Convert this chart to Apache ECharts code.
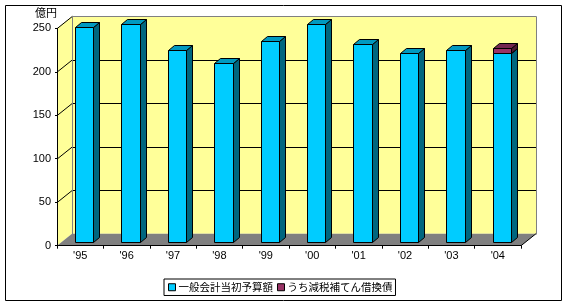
<!DOCTYPE html>
<html><head><meta charset="utf-8">
<script src="https://cdn.jsdelivr.net/npm/echarts@6/dist/echarts.min.js"></script>
<style>html,body{margin:0;padding:0;background:#fff}#c{width:567px;height:306px}</style>
</head><body><div id="c"></div>
<script>
const categories = ["'95","'96","'97","'98","'99","'00","'01","'02","'03","'04"];
const generalBudget = [247, 250, 220, 206, 231, 250, 227, 217, 220, 217];
const taxCutBonds   = [0, 0, 0, 0, 0, 0, 0, 0, 0, 6];
const yMin = 0, yMax = 250, yStep = 50;
const unitLabel = '億円';
const seriesNames = ['一般会計当初予算額', 'うち減税補てん借換債'];

const WALL_DX = 15, WALL_DY = -12;   // depth of the 3D box
const BAR_OX = 4, BAR_OY = -4;       // bar plane offset from front
const BAR_DX = 6, BAR_DY = -5;       // bar depth
const P = v => Math.round(v) + 0.5;

const chart = echarts.init(document.getElementById('c'), null, {renderer: 'canvas'});

function wallsRender(params, api) {
  const cs = params.coordSys;
  const x0 = cs.x, x1 = cs.x + cs.width;
  const yb = api.coord([0, yMin])[1];
  const children = [];
  const yTop = api.coord([0, yMax])[1];
  children.push({type: 'polygon', shape: {points: [
    [x0 + WALL_DX, yTop + WALL_DY], [x1 + WALL_DX, yTop + WALL_DY],
    [x1 + WALL_DX, yb + WALL_DY], [x0 + WALL_DX, yb + WALL_DY]]},
    style: {fill: '#FFFF99', stroke: null}});
  children.push({type: 'polygon', shape: {points: [
    [x0, yTop], [x0 + WALL_DX, yTop + WALL_DY], [x0 + WALL_DX, yb + WALL_DY], [x0, yb]]},
    style: {fill: '#FFFF99', stroke: null}});
  children.push({type: 'polygon', shape: {points: [
    [x0, yb], [x0 + WALL_DX, yb + WALL_DY], [x1 + WALL_DX, yb + WALL_DY], [x1, yb]]},
    style: {fill: '#808080', stroke: null}});
  for (let v = yMin; v <= yMax; v += yStep) {
    const y = api.coord([0, v])[1];
    if (v > yMin && v < yMax) {
      children.push({type: 'line', shape: {x1: x0 + WALL_DX, y1: P(y + WALL_DY), x2: x1 + WALL_DX, y2: P(y + WALL_DY)},
        style: {stroke: '#000', lineWidth: 1}});
    }
    if (v > yMin) {
      children.push({type: 'line', shape: {x1: P(x0), y1: y, x2: P(x0 + WALL_DX), y2: y + WALL_DY},
        style: {stroke: '#000', lineWidth: 1}});
    }
  }
  children.push({type: 'polyline', shape: {points: [
    [P(x0 + WALL_DX), P(yb + WALL_DY)], [P(x0 + WALL_DX), P(yTop + WALL_DY)],
    [P(x1 + WALL_DX), P(yTop + WALL_DY)], [P(x1 + WALL_DX), P(yb + WALL_DY)]]},
    style: {stroke: '#808080', fill: null, lineWidth: 1}});
  children.push({type: 'line', shape: {x1: x1, y1: yb, x2: x1 + WALL_DX, y2: yb + WALL_DY},
    style: {stroke: '#000', lineWidth: 1}});
  return {type: 'group', children};
}

function makeBarRender(colors) {
  return function (params, api) {
    const idx = api.value(0), base = api.value(1), top = api.value(2);
    if (top - base <= 0) return null;
    const c0 = api.coord([idx, base]);
    const c1 = api.coord([idx, top]);
    const w = api.size([1, 0])[0] * 0.4;
    const xl = P(c0[0] + BAR_OX - w / 2), xr = P(c0[0] + BAR_OX + w / 2);
    const yBot = P(c0[1] + BAR_OY), yT = P(c1[1] + BAR_OY);
    const st = {stroke: '#000', lineWidth: 1, lineJoin: 'miter'};
    return {type: 'group', children: [
      {type: 'polygon', shape: {points: [[xr, yT], [xr + BAR_DX, yT + BAR_DY], [xr + BAR_DX, yBot + BAR_DY], [xr, yBot]]},
        style: Object.assign({fill: colors.side}, st)},
      {type: 'polygon', shape: {points: [[xl, yT], [xl + BAR_DX, yT + BAR_DY], [xr + BAR_DX, yT + BAR_DY], [xr, yT]]},
        style: Object.assign({fill: colors.top}, st)},
      {type: 'rect', shape: {x: xl, y: yT, width: xr - xl, height: yBot - yT},
        style: Object.assign({fill: colors.front}, st)}
    ]};
  };
}

const baseData = generalBudget.map((v, i) => [i, 0, v]);
const stackData = taxCutBonds.map((v, i) => [i, generalBudget[i], generalBudget[i] + v]);

chart.setOption({
  animation: false,
  textStyle: {fontFamily: 'Liberation Sans, Arial, sans-serif'},
  graphic: [
    {type: 'rect', shape: {x: 5.5, y: 5.5, width: 556, height: 295}, style: {fill: null, stroke: '#000', lineWidth: 1}, z: -10},
    {type: 'text', left: 35, top: 7, style: {text: unitLabel, font: '11px "Noto Sans CJK JP"', fill: '#000'}}
  ],
  grid: {left: 57, right: 46, top: 28.3, bottom: 60.3},
  xAxis: {
    type: 'category', data: categories, boundaryGap: true,
    axisLine: {show: true, lineStyle: {color: '#000', width: 1}},
    axisTick: {show: true, length: 3, lineStyle: {color: '#000'}},
    axisLabel: {color: '#000', fontSize: 11, margin: 5},
    splitLine: {show: false}, z: 5
  },
  yAxis: {
    type: 'value', min: yMin, max: yMax, interval: yStep,
    axisLine: {show: true, lineStyle: {color: '#000', width: 1}},
    axisTick: {show: true, length: 2, lineStyle: {color: '#000'}},
    axisLabel: {color: '#000', fontSize: 11, margin: 6},
    splitLine: {show: false}, z: 5
  },
  legend: {
    left: 164, top: 279, orient: 'horizontal',
    data: seriesNames,
    icon: 'rect', itemWidth: 7, itemHeight: 7, itemGap: 4,
    itemStyle: {borderColor: '#000', borderWidth: 1},
    borderColor: '#000', borderWidth: 1, padding: [3, 3, 3, 4],
    textStyle: {fontSize: 10.5, fontFamily: 'Noto Sans CJK JP', color: '#000', padding: [0, 0, 0, -2]}
  },
  series: [
    {type: 'custom', name: '_walls', renderItem: wallsRender, data: [[0]], z: 1, silent: true},
    {type: 'custom', name: seriesNames[0], renderItem: makeBarRender({front: '#00CCFF', side: '#00667F', top: '#0099C0'}),
      data: baseData, encode: {x: 0, y: 2}, itemStyle: {color: '#00CCFF'}, z: 3},
    {type: 'custom', name: seriesNames[1], renderItem: makeBarRender({front: '#993366', side: '#4D1933', top: '#732650'}),
      data: stackData, encode: {x: 0, y: 2}, itemStyle: {color: '#993366'}, z: 4}
  ]
});
</script></body></html>
